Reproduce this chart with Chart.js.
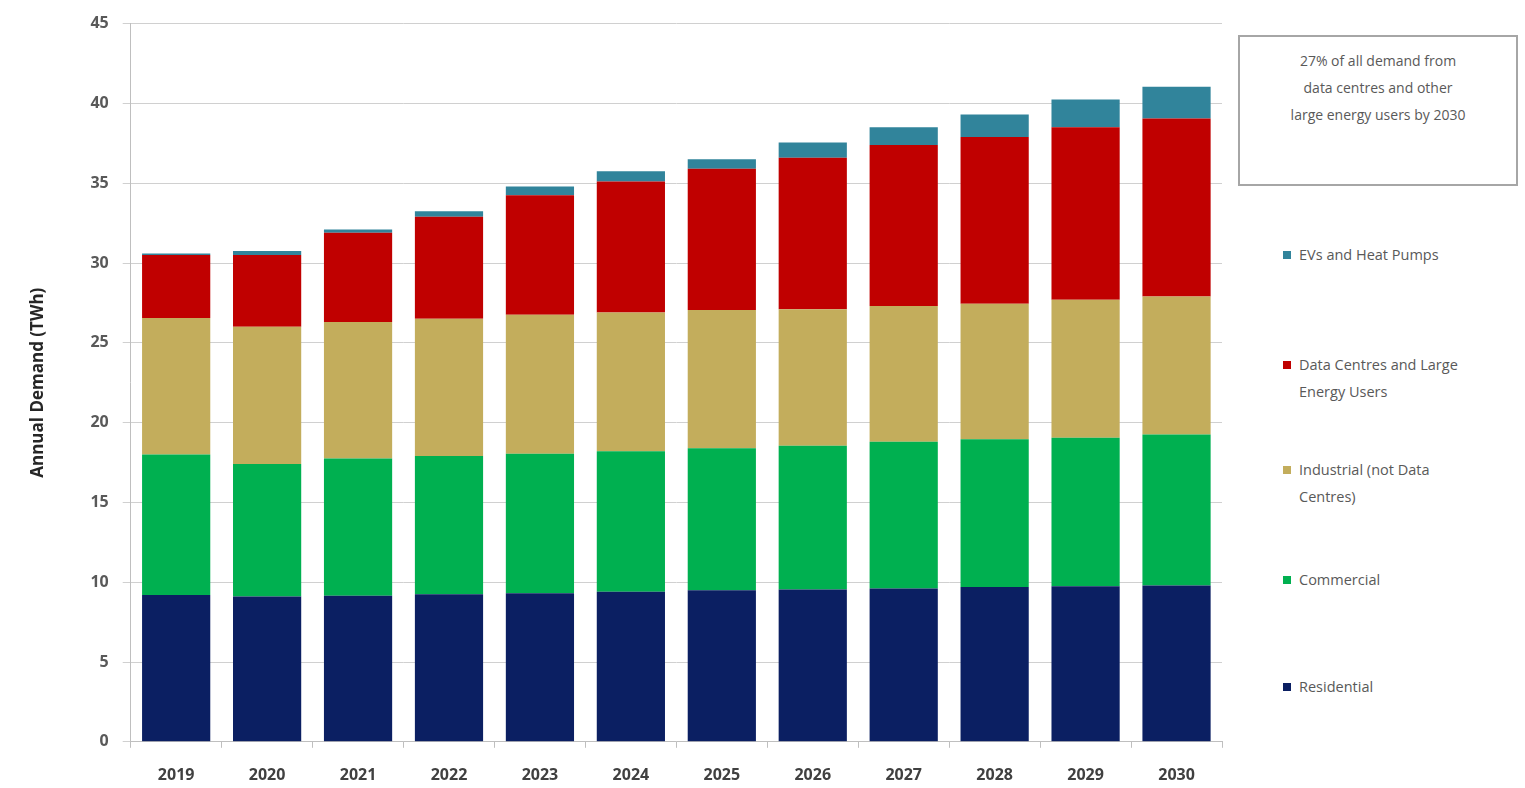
<!DOCTYPE html>
<html>
<head>
<meta charset="utf-8">
<script src="https://cdn.jsdelivr.net/npm/chart.js@4.4.1/dist/chart.umd.min.js"></script>
<style>
  body { margin: 0; background: #fff; font-family: "Open Sans", sans-serif; overflow: hidden; }
  #wrap { position: relative; width: 1525px; height: 788px; }
  #chartBox { position: absolute; left: 0; top: 0; width: 1232px; height: 788px; }
  #note {
    position: absolute; left: 1238px; top: 35px; width: 280px; height: 151px;
    border: 2px solid #a6a6a6; box-sizing: border-box;
    text-align: center; color: #595959; font-size: 14px; line-height: 27px; padding-top: 10px;
  }
  #legend { position: absolute; left: 1283px; top: 0; width: 242px; }
  .item { position: absolute; left: 0; width: 240px; color: #595959; font-size: 14.5px; line-height: 27px; }
  .item span.sw { position: absolute; left: 0; top: 10px; width: 8px; height: 8px; }
  .item span.tx { display: block; margin-left: 16px; }
</style>
</head>
<body>
<div id="wrap">
  <div id="chartBox"><canvas id="barChart"></canvas></div>
  <div id="note">27% of all demand from<br>data centres and other<br>large energy users by 2030</div>
  <div id="legend"></div>
</div>
<script>
const years = ['2019', '2020', '2021', '2022', '2023', '2024', '2025', '2026', '2027', '2028', '2029', '2030'];

const residential = [9.2, 9.1, 9.15, 9.25, 9.3, 9.4, 9.5, 9.55, 9.6, 9.7, 9.75, 9.8];
const commercial = [8.8, 8.3, 8.6, 8.65, 8.75, 8.8, 8.9, 9.0, 9.2, 9.25, 9.3, 9.45];
const industrial = [8.55, 8.6, 8.55, 8.6, 8.7, 8.7, 8.65, 8.55, 8.5, 8.5, 8.65, 8.65];
const dataCentres = [3.95, 4.5, 5.6, 6.4, 7.5, 8.2, 8.85, 9.5, 10.1, 10.45, 10.8, 11.15];
const evsHeatPumps = [0.1, 0.25, 0.2, 0.35, 0.55, 0.65, 0.6, 0.95, 1.1, 1.4, 1.75, 2.0];

const seriesNames = ['Residential', 'Commercial', 'Industrial (not Data Centres)', 'Data Centres and Large Energy Users', 'EVs and Heat Pumps'];
const seriesColors = ['#0b1f62', '#00b050', '#c3ad5c', '#c00000', '#31849b'];
const seriesData = [residential, commercial, industrial, dataCentres, evsHeatPumps];

const ctx = document.getElementById('barChart').getContext('2d');

new Chart(ctx, {
  type: 'bar',
  data: {
    labels: years,
    datasets: seriesData.map((d, i) => ({
      label: seriesNames[i],
      data: d,
      backgroundColor: seriesColors[i],
      borderWidth: 0,
      categoryPercentage: 1,
      barPercentage: 0.75
    }))
  },
  options: {
    responsive: true,
    maintainAspectRatio: false,
    animation: false,
    layout: { padding: { top: 10, right: 10, left: 24, bottom: -15 } },
    plugins: {
      legend: { display: false },
      tooltip: { enabled: false }
    },
    scales: {
      x: {
        stacked: true,
        grid: { display: true, drawOnChartArea: false, offset: true, color: '#bfbfbf', tickLength: 6 },
        border: { color: '#bfbfbf' },
        ticks: { color: '#404040', font: { family: 'Open Sans', size: 16, weight: 'bold' }, padding: 18 }
      },
      y: {
        stacked: true,
        min: 0,
        max: 45,
        grid: { color: '#d0d0d0', tickLength: 8 },
        border: { color: '#bfbfbf' },
        ticks: { stepSize: 5, color: '#595959', font: { family: 'Open Sans', size: 16, weight: 'bold' }, padding: 14 },
        title: {
          display: true,
          text: 'Annual Demand (TWh)',
          color: '#262626',
          font: { family: 'Open Sans', size: 17, weight: 'bold' },
          padding: { bottom: 28 }
        }
      }
    }
  }
});

// legend on the right, top entry is the top of the stack
const legendTops = [673, 566, 456, 351, 241];
const legend = document.getElementById('legend');
seriesNames.forEach((name, i) => {
  const item = document.createElement('div');
  item.className = 'item';
  item.style.top = legendTops[i] + 'px';
  item.innerHTML = '<span class="sw" style="background:' + seriesColors[i] + '"></span><span class="tx">' +
    name.replace('and Large Energy', 'and Large<br>Energy').replace('(not Data Centres)', '(not Data<br>Centres)') + '</span>';
  legend.appendChild(item);
});
</script>
</body>
</html>
